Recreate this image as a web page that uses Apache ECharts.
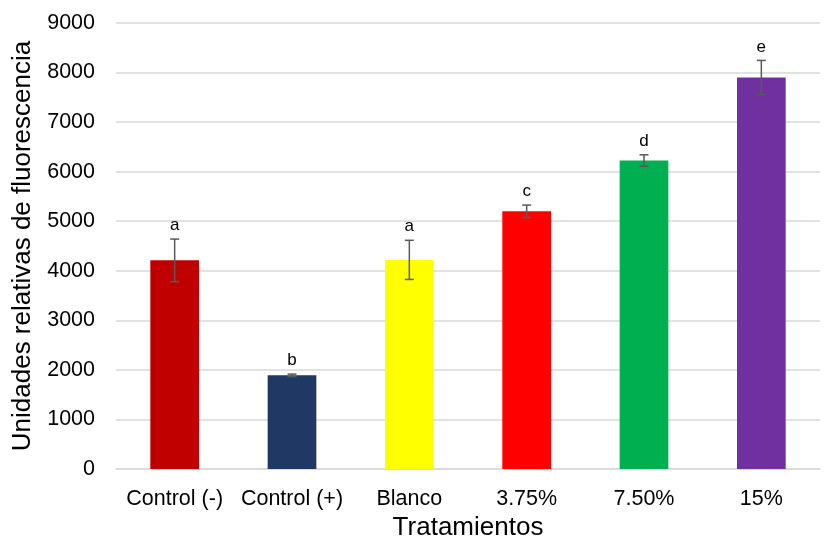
<!DOCTYPE html>
<html>
<head>
<meta charset="utf-8">
<script src="https://cdn.jsdelivr.net/npm/echarts@6/dist/echarts.min.js"></script>
<style>
  html, body { margin: 0; padding: 0; background: #fff; }
  #chart { width: 833px; height: 540px; }
</style>
</head>
<body>
<div id="chart"></div>
<script>
// 数据
var categories = ["Control (-)", "Control (+)", "Blanco", "3.75%", "7.50%", "15%"];
var values = [4210, 1890, 4220, 5200, 6225, 7900];
var errors = [430, 25, 395, 125, 115, 345];
var letters = ["a", "b", "a", "c", "d", "e"];
var barColors = ["#C00000", "#203864", "#FFFF00", "#FF0000", "#00B050", "#7030A0"];
var yTicks = [0, 1000, 2000, 3000, 4000, 5000, 6000, 7000, 8000, 9000];

var chart = echarts.init(document.getElementById("chart"));

// 误差线 + 字母
var errData = values.map(function (v, i) {
  return [i, v, errors[i]];
});

var option = {
  animation: false,
  grid: { left: 116, right: 13, top: 23, bottom: 71, outerBoundsMode: "none" },
  xAxis: {
    type: "category",
    data: categories,
    name: "Tratamientos",
    nameLocation: "middle",
    nameGap: 39,
    nameTextStyle: { fontFamily: "Liberation Sans", fontSize: 26, color: "#000" },
    axisLine: { lineStyle: { color: "#d9d9d9", width: 1.5 } },
    axisTick: { show: false },
    axisLabel: { fontFamily: "Liberation Sans", fontSize: 21.5, color: "#000", margin: 19, interval: 0 }
  },
  yAxis: {
    type: "value",
    min: yTicks[0],
    max: yTicks[yTicks.length - 1],
    interval: 1000,
    name: "Unidades relativas de fluorescencia",
    nameLocation: "middle",
    nameGap: 80,
    nameTextStyle: { fontFamily: "Liberation Sans", fontSize: 26, color: "#000" },
    axisLine: { show: false },
    axisTick: { show: false },
    axisLabel: {
      fontFamily: "Liberation Sans", fontSize: 21.5, color: "#000", margin: 21,
      formatter: function (v) { return String(v); }
    },
    splitLine: { lineStyle: { color: "#d9d9d9", width: 1.5 } }
  },
  series: [
    {
      type: "bar",
      barWidth: "41.5%",
      data: values.map(function (v, i) {
        return { value: v, itemStyle: { color: barColors[i] } };
      })
    },
    {
      type: "custom",
      data: errData,
      z: 10,
      renderItem: function (params, api) {
        var x = api.value(0);
        var v = api.value(1);
        var e = api.value(2);
        var top = api.coord([x, v + e]);
        var bot = api.coord([x, v - e]);
        var w = 4.5;
        var st = { stroke: "#595959", lineWidth: 1.5 };
        return {
          type: "group",
          children: [
            { type: "line", shape: { x1: top[0], y1: top[1], x2: bot[0], y2: bot[1] }, style: st },
            { type: "line", shape: { x1: top[0] - w, y1: top[1], x2: top[0] + w, y2: top[1] }, style: st },
            { type: "line", shape: { x1: bot[0] - w, y1: bot[1], x2: bot[0] + w, y2: bot[1] }, style: st },
            {
              type: "text",
              style: {
                x: top[0], y: top[1] - 5,
                text: letters[params.dataIndex],
                fontFamily: "Liberation Sans", fontSize: 17, fill: "#000",
                align: "center", verticalAlign: "bottom"
              }
            }
          ]
        };
      }
    }
  ]
};

chart.setOption(option);
</script>
</body>
</html>
